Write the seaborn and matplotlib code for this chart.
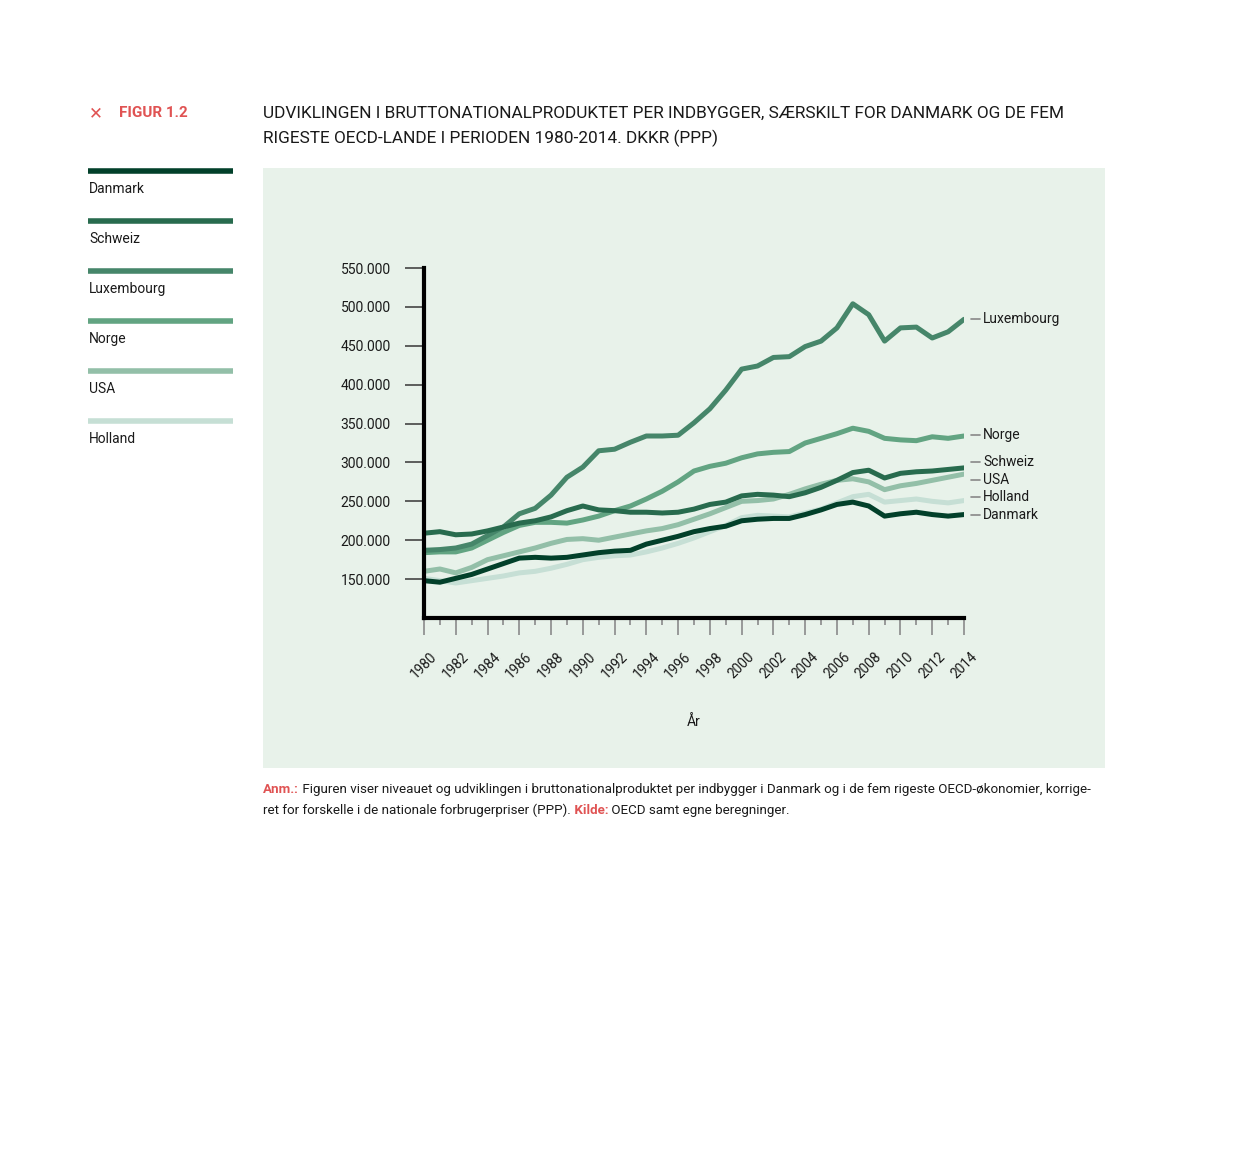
import matplotlib
matplotlib.use("Agg")
import matplotlib.pyplot as plt
from matplotlib.patches import Rectangle
from matplotlib.lines import Line2D
from matplotlib.ticker import FuncFormatter, MultipleLocator
import seaborn as sns
import pandas as pd

sns.set_style("white")
plt.rcParams['font.family'] = ['Roboto', 'DejaVu Sans']

# --- data ---
years = list(range(1980, 2015))
countries = ["Danmark", "Schweiz", "Luxembourg", "Norge", "USA", "Holland"]

danmark = [148, 146, 151, 156, 163, 170, 177, 178, 177, 178, 181, 184, 186, 187, 195, 200, 205, 211,
           215, 218, 225, 227, 228, 228, 233, 239, 246, 249, 244, 231, 234, 236, 233, 231, 233]
schweiz = [209, 211, 207, 208, 212, 217, 222, 225, 230, 238, 244, 239, 238, 236, 236, 235, 236, 240,
           246, 249, 257, 259, 258, 256, 261, 268, 277, 287, 290, 280, 286, 288, 289, 291, 293]
luxembourg = [187, 188, 190, 195, 206, 217, 234, 241, 258, 281, 294, 315, 317, 326, 334, 334, 335, 351,
              369, 393, 420, 424, 435, 436, 449, 456, 473, 504, 490, 456, 473, 474, 460, 468, 484]
norge = [184, 185, 185, 190, 200, 210, 219, 223, 223, 222, 226, 231, 238, 244, 253, 263, 275, 289,
         295, 299, 306, 311, 313, 314, 325, 331, 337, 344, 340, 331, 329, 328, 333, 331, 334]
usa = [160, 163, 158, 165, 175, 180, 185, 190, 196, 201, 202, 200, 204, 208, 212, 215, 220, 227,
       234, 242, 250, 251, 253, 259, 266, 272, 277, 279, 275, 265, 270, 273, 277, 281, 285]
holland = [151, 148, 145, 148, 151, 154, 158, 160, 164, 169, 175, 178, 180, 181, 185, 190, 196, 203,
           211, 219, 229, 232, 231, 230, 235, 240, 248, 256, 259, 249, 251, 253, 250, 248, 251]

# end label heights (thousand DKK), nudged apart like the original
label_y = {"Luxembourg": 484, "Norge": 335, "Schweiz": 300.5, "USA": 277.5, "Holland": 255.5, "Danmark": 232.5}

colors = {"Danmark": "#02402a", "Schweiz": "#286b4e", "Luxembourg": "#46866a",
          "Norge": "#62a482", "USA": "#93bfa8", "Holland": "#c6dfd5"}

series = {"Danmark": danmark, "Schweiz": schweiz, "Luxembourg": luxembourg,
          "Norge": norge, "USA": usa, "Holland": holland}
rows = []
for name, vals in series.items():
    for y, v in zip(years, vals):
        rows.append({"År": y, "BNP": v * 1000, "Land": name})
df = pd.DataFrame(rows)

RED = "#e05353"
TXT = "#1a1a1a"

W, H = 1240, 1150
fig = plt.figure(figsize=(W / 100, H / 100), dpi=100)
fig.patch.set_facecolor("white")

def fx(px):
    return px / W

def fy(py):
    return 1 - py / H

# background panel
fig.add_artist(Rectangle((fx(263), fy(768)), fx(1105) - fx(263), fy(168) - fy(768),
                         transform=fig.transFigure, facecolor="#e8f2ea", edgecolor="none", zorder=0))

# header
fig.text(fx(89), fy(113), "✕", color=RED, fontsize=12, fontweight="bold", va="center",
         family=['DejaVu Sans'])
fig.text(fx(119), fy(113), "FIGUR 1.2", color=RED, fontsize=11, fontweight="bold", va="center")
fig.text(fx(263), fy(113), "UDVIKLINGEN I BRUTTONATIONALPRODUKTET PER INDBYGGER, SÆRSKILT FOR DANMARK OG DE FEM",
         color=TXT, fontsize=12.4, va="center")
fig.text(fx(263), fy(138), "RIGESTE OECD-LANDE I PERIODEN 1980-2014. DKKR (PPP)",
         color=TXT, fontsize=12.4, va="center")

# left legend
for i, name in enumerate(countries):
    ly = 171 + i * 50
    fig.add_artist(Line2D([fx(88), fx(233)], [fy(ly), fy(ly)], transform=fig.transFigure,
                          color=colors[name], linewidth=4, solid_capstyle="butt"))
    fig.text(fx(89), fy(ly + 18), name, color=TXT, fontsize=10, va="center")

# main axes
ax = fig.add_axes([fx(424), fy(618), fx(964) - fx(424), fy(268) - fy(618)])
ax.set_facecolor("none")
draw_order = ["Holland", "USA", "Norge", "Luxembourg", "Schweiz", "Danmark"]
sns.lineplot(data=df, x="År", y="BNP", hue="Land", hue_order=draw_order, palette=colors,
             linewidth=3.6, legend=False, ax=ax, zorder=3)
ax.set_xlim(1980, 2014)
ax.set_ylim(100000, 550000)

for s in ["top", "right"]:
    ax.spines[s].set_visible(False)
for s in ["left", "bottom"]:
    ax.spines[s].set_color("black")
    ax.spines[s].set_linewidth(3)
    ax.spines[s].set_zorder(5)

ax.set_yticks(range(150000, 550001, 50000))
ax.yaxis.set_major_formatter(FuncFormatter(lambda v, p: f"{int(v):,}".replace(",", ".")))
ax.tick_params(axis="y", left=True, direction="out", length=14, width=1.2, color="#444444", pad=10,
               labelsize=10, labelcolor=TXT)

ax.xaxis.set_major_locator(MultipleLocator(2))
ax.xaxis.set_minor_locator(MultipleLocator(1))
ax.tick_params(axis="x", which="major", bottom=True, direction="out", length=12, width=1.2,
               color="#8a8a8a", pad=11, labelsize=9.8, labelcolor=TXT, labelrotation=45)
ax.tick_params(axis="x", which="minor", bottom=True, direction="out", length=5, width=1.2,
               color="#8a8a8a")
for lbl in ax.get_xticklabels():
    lbl.set_ha("center")

ax.set_xlabel("År", fontsize=10, color=TXT, labelpad=24)
ax.set_ylabel("")
ax.grid(False)

# end labels
for name, yv in label_y.items():
    ax.plot([2014.45, 2015.0], [yv * 1000, yv * 1000], color="#888888", linewidth=1.2, clip_on=False)
    ax.text(2015.2, yv * 1000, name, color=TXT, fontsize=10, va="center", ha="left", clip_on=False)

# footnote with coloured lead words
renderer = fig.canvas.get_renderer()

def run_text(x_px, y_px, parts):
    x = fx(x_px)
    for txt, col, bold in parts:
        t = fig.text(x, fy(y_px + 4), txt, color=col, fontsize=9.6, va="baseline",
                     fontweight="bold" if bold else "normal")
        bb = t.get_window_extent(renderer=renderer)
        x += bb.width / W

run_text(263, 789, [("Anm.:", RED, True),
                    (" Figuren viser niveauet og udviklingen i bruttonationalproduktet per indbygger i Danmark og i de fem rigeste OECD-økonomier, korrige-", TXT, False)])
run_text(263, 810, [("ret for forskelle i de nationale forbrugerpriser (PPP).", TXT, False),
                    (" Kilde:", RED, True),
                    (" OECD samt egne beregninger.", TXT, False)])

fig.savefig("out.png", dpi=100, facecolor="white")
